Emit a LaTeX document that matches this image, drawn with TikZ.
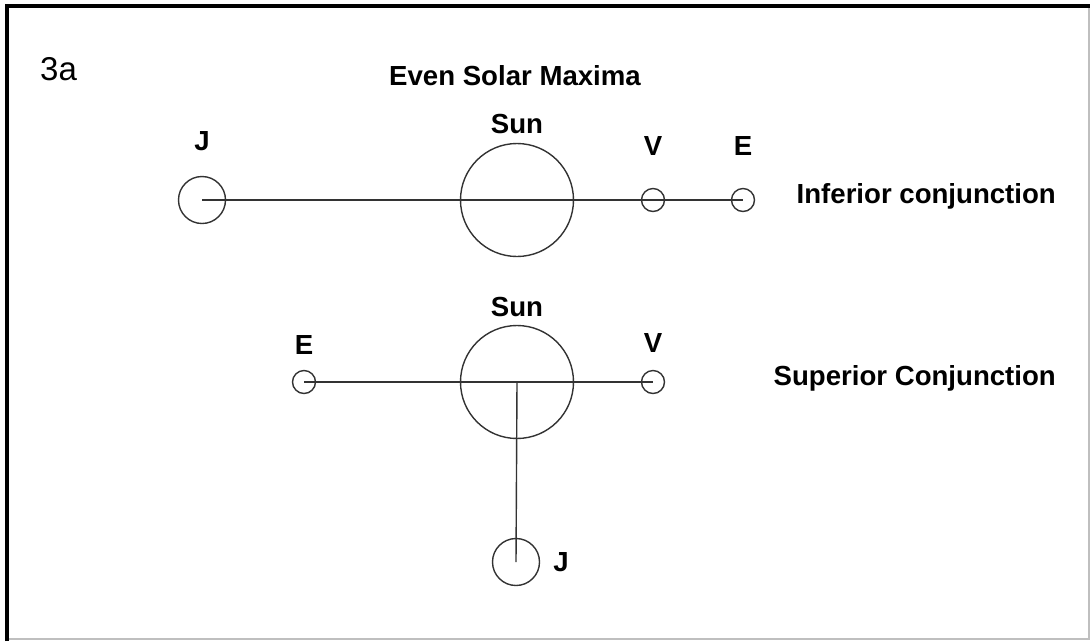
\documentclass[tikz,border=0pt]{standalone}
\usepackage{fontspec}
\setmainfont{Liberation Sans}
\usetikzlibrary{positioning}

\begin{document}
\begin{tikzpicture}[
  x=1pt, y=-1pt,
  body/.style={draw=black!80, line width=1.4pt, circle, inner sep=0pt},
  sunbody/.style={body, minimum size=113pt},
  bigplanet/.style={body, minimum size=47pt},
  smallplanet/.style={body, minimum size=23pt},
  tag/.style={font=\fontsize{27.6}{30}\selectfont\bfseries, inner sep=0pt},
  axis/.style={draw=black!80, line width=1.4pt},
]
  \useasboundingbox (0,0) rectangle (1090,641);
  \draw[line width=4pt] (7,641) -- (7,6) -- (1090,6);
  \draw[black!25, line width=2pt] (9,639) -- (1089,639) -- (1089,8);

  \node[font=\fontsize{33}{36}\selectfont, inner sep=0pt, anchor=base west] (fig) at (40,80) {3a};
  \node[tag, anchor=base] (title) at (515,85) {Even Solar Maxima};

  \node[bigplanet] (j1) at (202,200) {};
  \node[sunbody] (sun1) at (517,200) {};
  \node[smallplanet] (v1) at (653,200) {};
  \node[smallplanet] (e1) at (743,200) {};
  \draw[axis] (j1.center) -- (e1.center);
  \node[tag, above=25pt of j1] (jlab1) {J};
  \node[tag, above=9pt of sun1] (sunlab1) {Sun};
  \node[tag, above=32pt of v1] (vlab1) {V};
  \node[tag, above=32pt of e1] (elab1) {E};
  \node[tag, anchor=base east] (inf) at (1056,203) {Inferior conjunction};

  \node[smallplanet] (e2) at (304,382) {};
  \node[sunbody] (sun2) at (517,382) {};
  \node[smallplanet] (v2) at (653,382) {};
  \node[bigplanet] (j2) at (516,562) {};
  \draw[axis] (e2.center) -- (v2.center);
  \draw[axis] (sun2.center) -- (j2.center);
  \node[tag, above=7.5pt of sun2] (sunlab2) {Sun};
  \node[tag, above=15pt of e2] (elab2) {E};
  \node[tag, above=17pt of v2] (vlab2) {V};
  \node[tag, right=13pt of j2] (jlab2) {J};
  \node[tag, anchor=base east] (sup) at (1056,385) {Superior Conjunction};
\end{tikzpicture}
\end{document}
